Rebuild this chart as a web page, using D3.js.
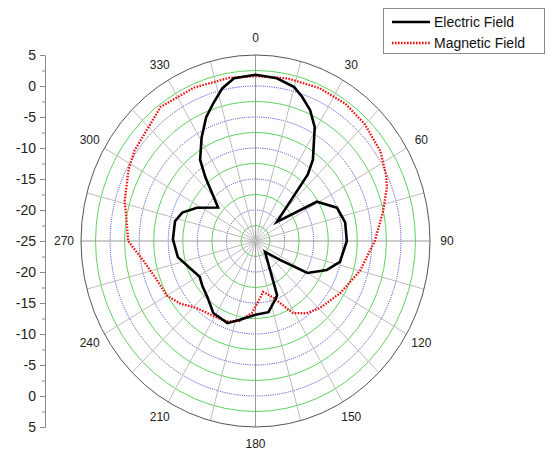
<!DOCTYPE html>
<html><head><meta charset="utf-8">
<script src="https://cdn.jsdelivr.net/npm/d3@7"></script>
<style>body{margin:0;background:#fff}svg{display:block}text{font-family:Arial,"Liberation Sans",sans-serif}</style>
</head><body>
<svg id="c" width="546" height="453"></svg>
<script>
// ---- data ----
const angleLabels = [0,30,60,90,120,150,180,210,240,270,300,330];
const radialTicks = [-30,-25,-20,-15,-10,-5,0,5,10,15,20,25,30]; // signed offsets
const eAngles = [0,8,15,19,24,29,37,40,50,59,69,79,90,103,111,120,126,137,157,160,169,180,192,200,212,222,231,239,247,259,271,283,290,298,310,320,324,331,337,342,347,352];
const eValues = [1.8,1.5,0.7,-0.4,-1.9,-4.0,-8.6,-11.0,-20.2,-12.7,-10.0,-9.3,-9.3,-10.1,-11.9,-14.7,-19.8,-22.6,-15.5,-15.0,-13.3,-13.1,-12.0,-10.9,-11.3,-12.7,-13.3,-13.8,-13.1,-11.4,-10.8,-10.8,-11.6,-13.6,-16.6,-11.6,-8.8,-5.9,-3.3,-1.6,0.3,1.5];
const mAngles = [0,12,24,35,45,56,65,69,78,90,105,120,134,143,151,157,162,171,178,183,192,201,211,223,232,240,250,261,270,276,286,298,305,323,337,350];
const mValues = [1.6,1.8,2.0,2.0,1.6,0.9,-0.2,-0.8,-2.6,-4.5,-6.4,-8.2,-9.5,-10.4,-11.7,-14.1,-15.5,-16.7,-15.0,-13.4,-11.8,-11.1,-10.9,-10.2,-8.6,-7.4,-6.9,-5.4,-3.1,-2.8,-1.6,-0.3,0.4,2.1,1.9,1.7];
const seriesNames = ["Electric Field","Magnetic Field"];

// ---- layout ----
const svg = d3.select("#c");
const cx = 255.5, cy = 241, RX = 174.5, RY = 186;
const r = d3.scaleLinear().domain([-25,5]).range([0,1]);
const rad = d => d*Math.PI/180;
const px = (a,v) => cx + r(v)*RX*Math.sin(rad(a));
const py = (a,v) => cy - r(v)*RY*Math.cos(rad(a));

const grid = svg.append("g");
// rings
const ringVals = d3.range(-22.5, 5, 2.5);
ringVals.forEach((v,i) => {
  const green = (i % 2 === 0);
  grid.append("ellipse").attr("cx",cx).attr("cy",cy)
    .attr("rx", r(v)*RX).attr("ry", r(v)*RY)
    .attr("fill","none")
    .attr("stroke", green ? "#5fd35f" : "#3a3ad0")
    .attr("stroke-width", green ? 1 : 1)
    .attr("stroke-dasharray", green ? null : "1,1.2");
});
// spokes
d3.range(0,360,15).forEach(a => {
  grid.append("line").attr("x1",cx).attr("y1",cy)
    .attr("x2",px(a,5)).attr("y2",py(a,5))
    .attr("stroke", a%90===0 ? "#999" : "#bdbdbd").attr("stroke-width",1);
});
// outer ring
grid.append("ellipse").attr("cx",cx).attr("cy",cy).attr("rx",RX).attr("ry",RY)
  .attr("fill","none").attr("stroke","#555").attr("stroke-width",1);

// angle labels
svg.append("g").selectAll("text").data(angleLabels).join("text")
  .attr("x", a => cx + (RX+17)*Math.sin(rad(a)))
  .attr("y", a => cy - (RY+17)*Math.cos(rad(a)))
  .attr("text-anchor","middle").attr("dominant-baseline","central")
  .attr("font-size",12).attr("fill","#222")
  .text(a => a);

// left radial axis
const yAx = d3.scaleLinear().domain([-30,30]).range([cy+RY, cy-RY]);
const axG = svg.append("g").attr("transform","translate(45,0)");
axG.call(d3.axisLeft(yAx).tickValues(radialTicks).tickSize(5).tickPadding(4)
  .tickFormat(s => Math.abs(s)-25));
axG.selectAll(".domain").attr("stroke","#888");
axG.selectAll(".tick line").attr("stroke","#888");
axG.selectAll(".tick text").attr("font-size",14).attr("fill","#222")
  .attr("font-family",'Arial,"Liberation Sans",sans-serif');
const minorG = svg.append("g").attr("transform","translate(45,0)");
minorG.call(d3.axisLeft(yAx).tickValues(d3.range(-27.5,30,5)).tickSize(3).tickFormat(""));
minorG.select(".domain").remove();
minorG.selectAll(".tick line").attr("stroke","#888");

// series
const line = d3.line().x(d => px(d[0],d[1])).y(d => py(d[0],d[1])).curve(d3.curveLinearClosed);
const mData = d3.zip(mAngles, mValues);
const eData = d3.zip(eAngles, eValues);
svg.append("path").datum(mData).attr("d",line).attr("fill","none")
  .attr("stroke","#ee1111").attr("stroke-width",2.3).attr("stroke-dasharray","1.6,1.4");
svg.append("path").datum(eData).attr("d",line).attr("fill","none")
  .attr("stroke","#000").attr("stroke-width",2.6).attr("stroke-linejoin","miter");

// legend
const lg = svg.append("g");
lg.append("rect").attr("x",383.5).attr("y",8.5).attr("width",161).attr("height",45)
  .attr("fill","#fff").attr("stroke","#888");
lg.append("line").attr("x1",392).attr("x2",430).attr("y1",22).attr("y2",22)
  .attr("stroke","#000").attr("stroke-width",2.6);
lg.append("line").attr("x1",392).attr("x2",430).attr("y1",43).attr("y2",43)
  .attr("stroke","#ee1111").attr("stroke-width",2.3).attr("stroke-dasharray","1.6,1.4");
lg.selectAll("text.lt").data(seriesNames).join("text").attr("class","lt")
  .attr("x",434).attr("y",(d,i)=>22+i*21).attr("dominant-baseline","central")
  .attr("font-size",14).attr("fill","#111").text(d=>d);
</script>
</body></html>
